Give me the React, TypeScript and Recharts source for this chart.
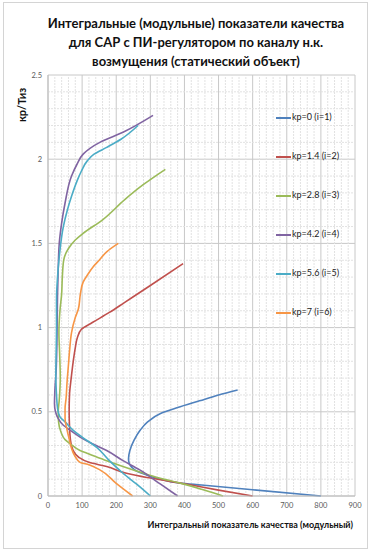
import React from "react";
import {
  LineChart,
  Line,
  XAxis,
  YAxis,
  CartesianGrid,
  ReferenceLine,
} from "recharts";

// integral index (x) vs kp/Ti (y)
const kp0 = [
  [800, 0], [600, 0.037], [450, 0.065], [386, 0.077], [330, 0.1], [289, 0.125],
  [262, 0.145], [246, 0.17], [238, 0.195], [236, 0.22], [240, 0.27], [252, 0.33],
  [270, 0.39], [292, 0.44], [330, 0.49], [380, 0.525], [444, 0.565], [500, 0.6],
  [556, 0.63],
];
const kp14 = [
  [600, 0], [500, 0.035], [420, 0.065], [350, 0.09], [290, 0.11], [230, 0.135],
  [172, 0.175], [120, 0.2], [90, 0.23], [74, 0.27], [66, 0.33], [63, 0.42],
  [62, 0.5], [63, 0.6], [68, 0.7], [74, 0.8], [80, 0.88], [86, 0.94], [98, 0.99],
  [130, 1.03], [180, 1.09], [225, 1.15], [300, 1.25], [396, 1.38],
];
const kp28 = [
  [513, 0], [450, 0.04], [390, 0.075], [320, 0.11], [250, 0.155], [172, 0.21],
  [120, 0.25], [94, 0.27], [65, 0.31], [50, 0.335], [38, 0.38], [31, 0.44],
  [30, 0.5], [33, 0.57], [36, 0.7], [34, 0.85], [32, 0.97], [35, 1.1], [40, 1.2],
  [42, 1.3], [46, 1.4], [60, 1.47], [80, 1.52], [103, 1.56], [160, 1.64],
  [225, 1.76], [280, 1.85], [344, 1.94],
];
const kp42 = [
  [380, 0], [330, 0.07], [269, 0.155], [220, 0.21], [172, 0.27], [130, 0.31],
  [94, 0.35], [65, 0.39], [45, 0.42], [30, 0.46], [22, 0.5], [19, 0.55], [20, 0.62],
  [24, 0.75], [26, 0.9], [27, 1.05], [28, 1.2], [30, 1.35], [33, 1.5], [40, 1.62],
  [50, 1.74], [69, 1.9], [85, 1.97], [103, 2.03], [152, 2.1], [220, 2.16], [308, 2.26],
];
const kp56 = [
  [300, 0], [260, 0.07], [220, 0.135], [180, 0.21], [142, 0.29], [100, 0.35],
  [74, 0.39], [50, 0.44], [35, 0.47], [28, 0.52], [25, 0.6], [23, 0.71], [24, 0.85],
  [25, 1.0], [25, 1.17], [28, 1.3], [33, 1.42], [45, 1.6], [57, 1.7], [69, 1.78],
  [85, 1.87], [98, 1.93], [115, 1.99], [135, 2.03], [172, 2.07], [215, 2.12], [264, 2.2],
];
const kp7 = [
  [248, 0], [200, 0.075], [152, 0.155], [120, 0.185], [94, 0.2], [78, 0.24],
  [68, 0.29], [62, 0.34], [55, 0.4], [50, 0.46], [50, 0.52], [53, 0.58], [56, 0.68],
  [60, 0.78], [64, 0.88], [69, 0.97], [80, 1.06], [89, 1.11], [95, 1.2], [103, 1.27],
  [118, 1.32], [132, 1.36], [150, 1.4], [172, 1.45], [206, 1.5],
];

const seriesNames = [
  "kp=0 (i=1)",
  "kp=1.4 (i=2)",
  "kp=2.8 (i=3)",
  "kp=4.2 (i=4)",
  "kp=5.6 (i=5)",
  "kp=7 (i=6)",
];
const seriesPoints = [kp0, kp14, kp28, kp42, kp56, kp7];
const COLORS = ["#4F81BD", "#C0504D", "#9BBB59", "#8064A2", "#4BACC6", "#F79646"];

const xTicks = [0, 100, 200, 300, 400, 500, 600, 700, 800, 900];
const yTicks = [0, 0.5, 1, 1.5, 2, 2.5];
const xMinor = Array.from({ length: 46 }, (_, i) => i * 20).filter((v) => v % 100 !== 0);
const yMinor = Array.from({ length: 26 }, (_, i) => +(i * 0.1).toFixed(1)).filter(
  (v) => Math.round(v * 10) % 5 !== 0
);

const FONT = "Lato, 'Open Sans', sans-serif";

function LegendBox() {
  return (
    <div
      style={{
        position: "absolute",
        left: 276,
        top: 111,
        fontFamily: FONT,
        fontSize: 9,
        color: "#222",
      }}
    >
      {seriesNames.map((name, i) => (
        <div
          key={name}
          style={{ height: 39, display: "flex", alignItems: "flex-start" }}
        >
          <span
            style={{
              display: "inline-block",
              width: 15,
              height: 2,
              marginTop: 6,
              marginRight: 1,
              background: COLORS[i],
            }}
          />
          <span>{name}</span>
        </div>
      ))}
    </div>
  );
}

export default function App() {
  const data = seriesPoints.map((pts) => pts.map(([x, y]) => ({ x, y })));

  return (
    <div
      style={{
        position: "absolute",
        left: 0,
        top: 0,
        width: 372,
        height: 553,
        background: "#fff",
        fontFamily: FONT,
      }}
    >
      <div
        style={{
          position: "absolute",
          left: 3,
          top: 2,
          width: 363,
          height: 545,
          border: "1px solid #d4d4d4",
        }}
      />
      <div
        style={{
          position: "absolute",
          left: 10,
          top: 14,
          width: 372,
          textAlign: "center",
          fontWeight: 700,
          fontSize: 13,
          lineHeight: "19px",
          color: "#111",
        }}
      >
        Интегральные (модульные) показатели качества
        <br />
        для САР с ПИ-регулятором по каналу н.к.
        <br />
        возмущения (статический объект)
      </div>
      <LineChart
        width={372}
        height={553}
        margin={{ top: 75, right: 17, bottom: 27, left: 8 }}
        style={{ position: "absolute", left: 0, top: 0 }}
      >
        {xMinor.map((v) => (
          <ReferenceLine
            key={"vx" + v}
            x={v}
            stroke="#e2e2e2"
            strokeDasharray="2 1"
            strokeWidth={1}
          />
        ))}
        {yMinor.map((v) => (
          <ReferenceLine
            key={"hy" + v}
            y={v}
            stroke="#e2e2e2"
            strokeDasharray="2 1"
            strokeWidth={1}
          />
        ))}
        <CartesianGrid stroke="#c8c8c8" strokeWidth={1} />
        <XAxis
          type="number"
          dataKey="x"
          domain={[0, 900]}
          ticks={xTicks}
          axisLine={{ stroke: "#bdbdbd" }}
          tickLine={false}
          tickSize={0}
          tickMargin={7}
          height={30}
          tick={{ fontSize: 7.5, fill: "#595959", fontFamily: FONT }}
          label={{
            content: () => (
              <text
                x={353}
                y={528}
                textAnchor="end"
                fontSize={9}
                fontWeight={700}
                fill="#111"
                fontFamily={FONT}
              >
                Интегральный показатель качества (модульный)
              </text>
            ),
          }}
        />
        <YAxis
          type="number"
          dataKey="y"
          domain={[0, 2.5]}
          ticks={yTicks}
          width={40}
          axisLine={{ stroke: "#bdbdbd" }}
          tickLine={false}
          tickSize={0}
          tickMargin={6}
          tick={{ fontSize: 7.5, fill: "#595959", fontFamily: FONT }}
          label={{
            content: () => (
              <text
                x={26}
                y={105}
                transform="rotate(-90 26 105)"
                textAnchor="middle"
                fontSize={11}
                fontWeight={700}
                fill="#111"
                fontFamily={FONT}
              >
                кр/Тиз
              </text>
            ),
          }}
        />
        {data.map((pts, i) => (
          <Line
            key={seriesNames[i]}
            name={seriesNames[i]}
            data={pts}
            dataKey="y"
            type="monotoneY"
            stroke={COLORS[i]}
            strokeWidth={1.6}
            dot={false}
            activeDot={false}
            isAnimationActive={false}
          />
        ))}
      </LineChart>
      <LegendBox />
    </div>
  );
}
